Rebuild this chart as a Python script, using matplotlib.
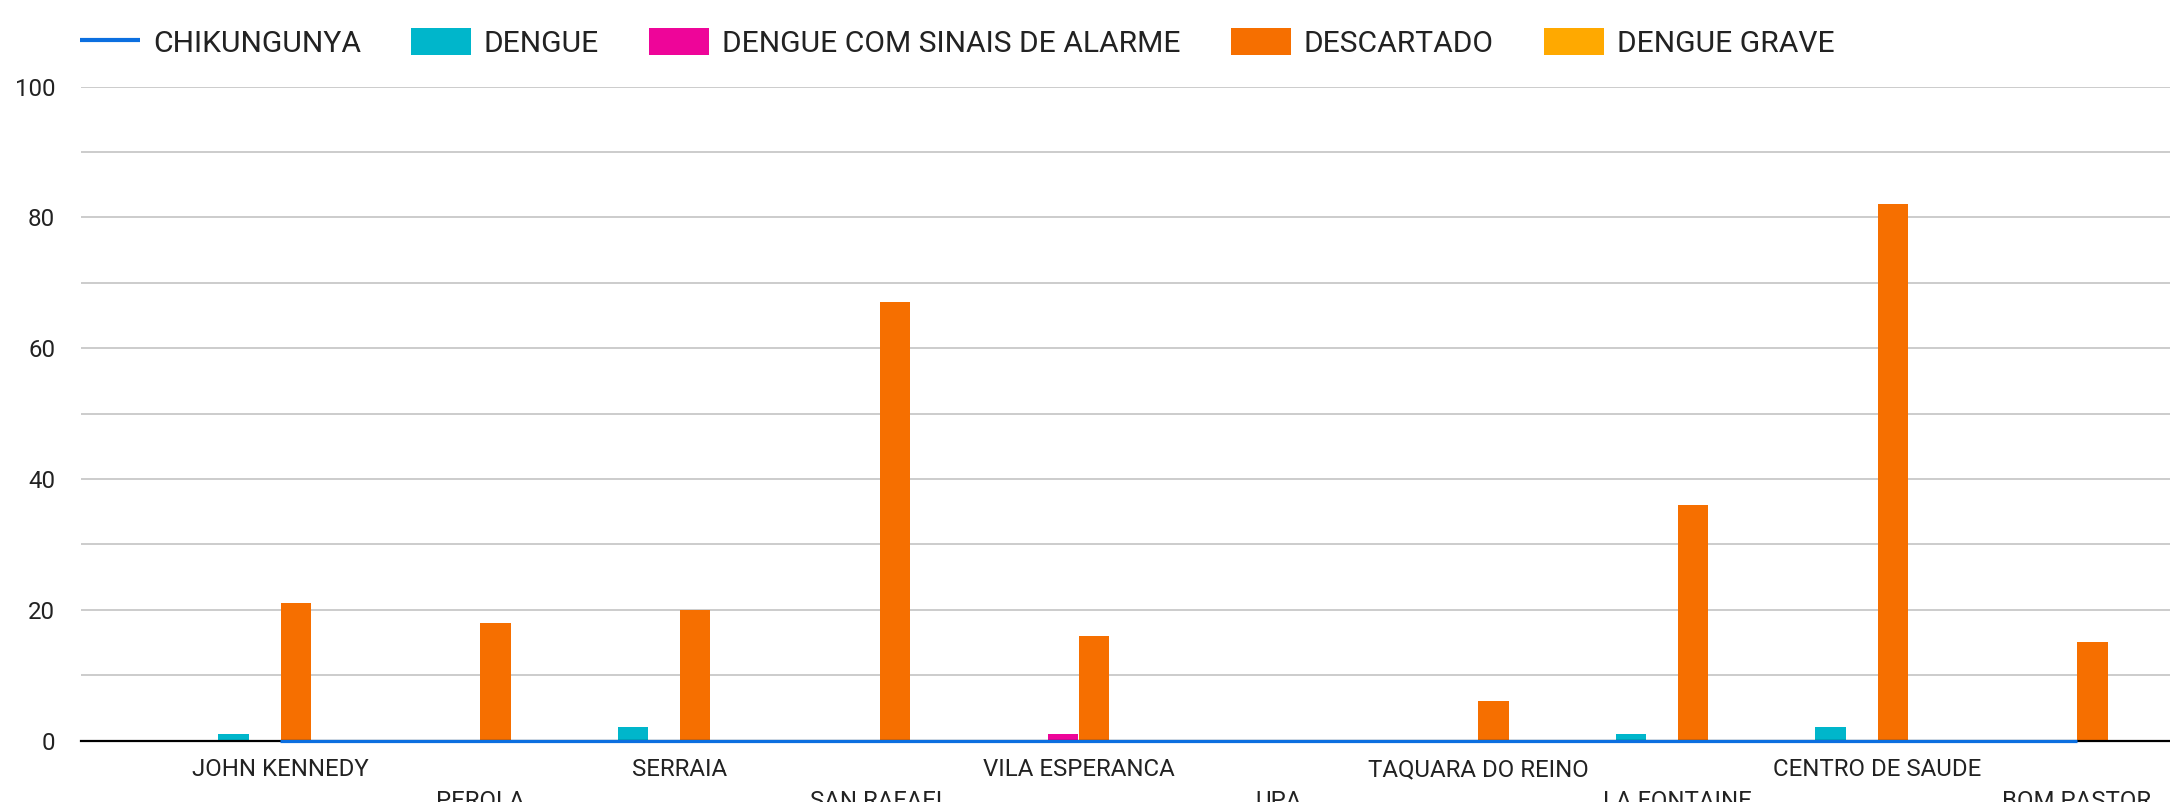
import matplotlib
matplotlib.use("Agg")
import matplotlib.pyplot as plt
from matplotlib.lines import Line2D
import numpy as np

plt.rcParams['font.family'] = ['Roboto', 'DejaVu Sans']

categories = ["JOHN KENNEDY", "PEROLA", "SERRAIA", "SAN RAFAEL", "VILA ESPERANCA",
              "UPA", "TAQUARA DO REINO", "LA FONTAINE", "CENTRO DE SAUDE", "BOM PASTOR"]
chikungunya = [0, 0, 0, 0, 0, 0, 0, 0, 0, 0]
dengue = [1, 0, 2, 0, 0, 0, 0, 1, 2, 0]
dengue_alarme = [0, 0, 0, 0, 1, 0, 0, 0, 0, 0]
descartado = [21, 18, 20, 67, 16, 0, 6, 36, 82, 15]
dengue_grave = [0, 0, 0, 0, 0, 0, 0, 0, 0, 0]

bar_series = [
    ("DENGUE", dengue, "#00B6CB"),
    ("DENGUE COM SINAIS DE ALARME", dengue_alarme, "#EE0599"),
    ("DESCARTADO", descartado, "#F66F00"),
    ("DENGUE GRAVE", dengue_grave, "#FFA900"),
]
line_color = "#0B6FE0"
y_ticks = [0, 20, 40, 60, 80, 100]

W, H = 2170, 802
fig = plt.figure(figsize=(W / 100, H / 100), dpi=100)
left_px, right_px = 80.7, 2170
y0_px, y100_px = 740.5, 86.5
ax = fig.add_axes([left_px / W, 1 - y0_px / H, (right_px - left_px) / W, (y0_px - y100_px) / H])

x = np.arange(len(categories))
step = 0.156
width = 0.152
ax.plot(x, chikungunya, color=line_color, lw=2.3, zorder=5, solid_capstyle='butt', clip_on=False)
handles = [Line2D([], [], color=line_color, lw=3.0, solid_capstyle='butt', label="CHIKUNGUNYA")]
for i, (name, vals, col) in enumerate(bar_series):
    off = (i - 1.5) * step
    b = ax.bar(x + off, vals, width=width, color=col, label=name, zorder=3)
    handles.append(b)

ax.axhline(0, color="#000000", lw=1.6, zorder=4, clip_on=False)

ax.set_xlim(-1.0, 9.467)
ax.set_ylim(0, 100)
ax.set_yticks(y_ticks)
ax.set_yticks([10, 30, 50, 70, 90], minor=True)
ax.grid(True, axis='y', which='both', color='#cccccc', lw=1.4, zorder=0)
ax.tick_params(axis='y', which='both', length=0, pad=18.5, labelsize=17.3, labelcolor='#222222')

ax.set_xticks(x)
ax.set_xticklabels(categories)
ax.tick_params(axis='x', length=0, labelsize=17.3, labelcolor='#222222')
for k, t in enumerate(ax.xaxis.get_major_ticks()):
    t.set_pad(12.6 if k % 2 == 0 else 35.5)

for s in ax.spines.values():
    s.set_visible(False)

leg = fig.legend(handles=handles, loc='center left', bbox_to_anchor=(80 / W, 1 - 43 / H),
                 ncol=5, frameon=False, fontsize=21.6, handlelength=2.0, handleheight=1.0,
                 handletextpad=0.43, columnspacing=1.67, borderpad=0, borderaxespad=0)
for t in leg.get_texts():
    t.set_color('#222222')

fig.savefig("out.png", dpi=100)
